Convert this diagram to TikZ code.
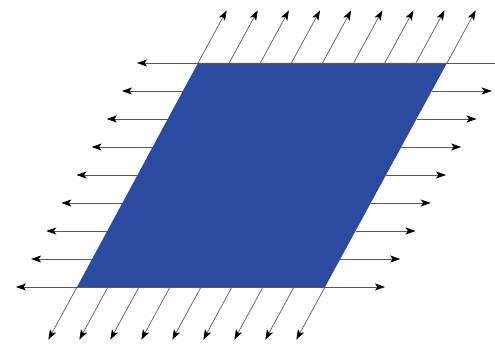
\documentclass[tikz,border=0pt]{standalone}
\usetikzlibrary{calc,arrows.meta}
\definecolor{plate}{RGB}{42,75,160}
\tikzset{
  tip/.style={Stealth[length=10pt,width=7pt,inset=2.5pt,black]},
  flux/.style={draw=black!65, line width=0.7pt, -{Stealth[length=10pt,width=7pt,inset=2.5pt,black]}},
  fluxboth/.style={draw=black!65, line width=0.7pt, {Stealth[length=10pt,width=7pt,inset=2.5pt,black]}-{Stealth[length=10pt,width=7pt,inset=2.5pt,black]}}
}
\begin{document}
\begin{tikzpicture}[x=1pt,y=-1pt]
  \clip (0,0) rectangle (495,344);
  \coordinate (A) at (198,63);
  \coordinate (B) at (447,63);
  \coordinate (C) at (325,287);
  \coordinate (D) at (77,287);
  \fill[plate] (A) -- (B) -- (C) -- (D) -- cycle;
  % horizontal rows
  \draw[fluxboth] ($(A)+(-61,0)$) -- ($(B)+(60,0)$);
  \draw[fluxboth] ($(D)+(-61,0)$) -- ($(C)+(60,0)$);
  \foreach \i in {1,...,7}{
    \coordinate (L\i) at ($(A)!\i/8!(D)$);
    \coordinate (R\i) at ($(B)!\i/8!(C)$);
    \draw[flux] (L\i) -- ($(L\i)+(-61,0)$);
    \draw[flux] (R\i) -- ($(R\i)+(60,0)$);
  }
  % slanted columns
  \foreach \j in {0,...,8}{
    \coordinate (T\j) at ($(A)!\j/8!(B)$);
    \coordinate (U\j) at ($(D)!\j/8!(C)$);
    \draw[flux] (T\j) -- ($(T\j)+0.235*(B)-0.235*(C)$);
    \draw[flux] (U\j) -- ($(U\j)+0.235*(C)-0.235*(B)$);
  }
\end{tikzpicture}
\end{document}
